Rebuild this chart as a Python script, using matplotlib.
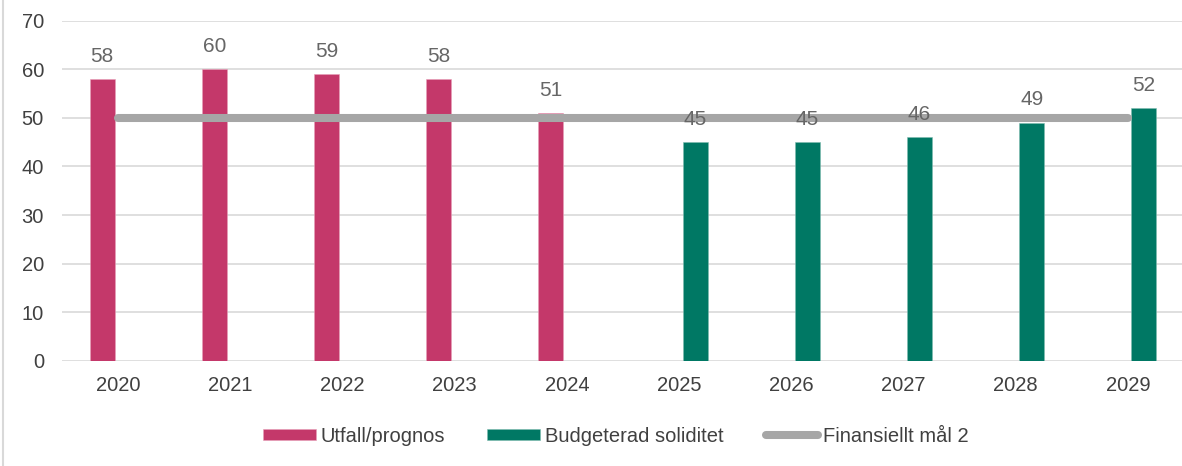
import matplotlib.pyplot as plt
from matplotlib.lines import Line2D
import numpy as np

plt.rcParams['font.family'] = ['Liberation Sans', 'DejaVu Sans']

years = ['2020', '2021', '2022', '2023', '2024', '2025', '2026', '2027', '2028', '2029']
utfall = [58, 60, 59, 58, 51, None, None, None, None, None]
budget = [None, None, None, None, None, 45, 45, 46, 49, 52]
mal = [50] * 10

PINK = '#C4386A'
GREEN = '#007864'
GREY = '#A6A6A6'
GRID = '#D9D9D9'
TXT = '#404040'
LBL = '#666666'

fig = plt.figure(figsize=(11.82, 4.66), dpi=100)
ax = fig.add_axes([62 / 1182, 105 / 466, 1122 / 1182, 340.5 / 466])

x = np.arange(len(years))
w = 0.223
off = 0.143

ux = [i - off for i, v in enumerate(utfall) if v is not None]
uv = [v for v in utfall if v is not None]
bx = [i + off for i, v in enumerate(budget) if v is not None]
bv = [v for v in budget if v is not None]

b1 = ax.bar(ux, uv, width=w, color=PINK, label='Utfall/prognos', zorder=2,
            edgecolor='#E8A0B8', linewidth=0.4)
b2 = ax.bar(bx, bv, width=w, color=GREEN, label='Budgeterad soliditet', zorder=2,
            edgecolor='#80BBB0', linewidth=0.4)
l1, = ax.plot(x, mal, color=GREY, linewidth=5.8, solid_capstyle='round',
              label='Finansiellt mål 2', zorder=3)

for xi, v in zip(ux + bx, uv + bv):
    ax.annotate(str(v), (xi, v), xytext=(0, 9.5), textcoords='offset points',
                ha='center', va='bottom', fontsize=15, color=LBL, zorder=4)

ax.set_xlim(-0.5, 9.5)
ax.set_ylim(0, 70)
ax.set_yticks(range(0, 71, 10))
ax.set_xticks(x)
ax.set_xticklabels(years)
ax.grid(axis='y', color=GRID, linewidth=1.2, zorder=0)
ax.set_axisbelow(True)
for s in ax.spines.values():
    s.set_visible(False)
ax.tick_params(axis='y', length=0, pad=13, labelsize=14.5, labelcolor=TXT)
ax.tick_params(axis='x', length=0, pad=11, labelsize=14.5, labelcolor=TXT)

leg = fig.legend([b1, b2, l1], ['Utfall/prognos', 'Budgeterad soliditet', 'Finansiellt mål 2'],
                 loc='center', bbox_to_anchor=(616 / 1182, 30 / 466), ncol=3,
                 frameon=False, fontsize=14.5, handlelength=2.6, handleheight=0.5,
                 handletextpad=0.25, columnspacing=2.1, labelcolor=TXT)

# light frame line on the left edge
fig.add_artist(Line2D([2.5 / 1182, 2.5 / 1182], [0, 1], color=GRID, linewidth=1.5))

fig.savefig('out.png', dpi=100)
